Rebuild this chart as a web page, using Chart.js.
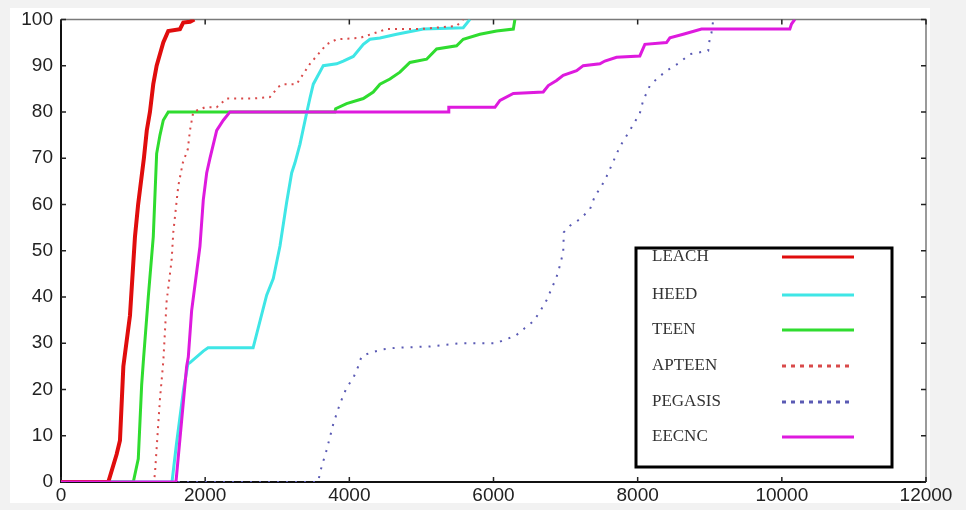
<!DOCTYPE html>
<html>
<head>
<meta charset="utf-8">
<script src="https://cdn.jsdelivr.net/npm/chart.js@4.4.0/dist/chart.umd.min.js"></script>
<style>
  body { margin: 0; background: #f2f2f2; }
  #wrap { position: relative; width: 966px; height: 510px; }
  #paper { position: absolute; left: 10px; top: 8px; width: 920px; height: 495px; background: #fff; }
  #myChart { position: absolute; left: 0; top: 0; }
</style>
</head>
<body>
<div id="wrap">
  <div id="paper"></div>
  <canvas id="myChart" width="966" height="510"></canvas>
</div>
<script>
// values (x = rounds, y = % dead nodes)
var leachX = [0, 656, 772, 818, 865, 957, 1026, 1070, 1150, 1190, 1234, 1280, 1327, 1419, 1488, 1650, 1696, 1790, 1850];
var leachY = [0, 0, 6, 9, 25, 36, 53, 60, 70, 76, 80, 86, 90, 95, 97.5, 97.9, 99.3, 99.5, 100];

var heedX = [0, 1540, 1600, 1700, 1760, 1790, 1974, 2040, 2665, 2853, 2945, 3038, 3130, 3200, 3246, 3315, 3407, 3454, 3500, 3639, 3824, 3916, 4055, 4194, 4286, 4425, 4656, 5025, 5580, 5673];
var heedY = [0, 0, 8, 20, 25.5, 25.8, 28.3, 29, 29, 40.4, 44, 51, 60.4, 66.8, 69, 73, 79.7, 83, 86, 90, 90.4, 91, 92, 94.6, 95.7, 96, 96.8, 97.9, 98.2, 100];

var teenX = [0, 1003, 1072, 1119, 1142, 1211, 1280, 1327, 1373, 1419, 1488, 3800, 3810, 3962, 4194, 4332, 4425, 4563, 4702, 4840, 5072, 5211, 5488, 5580, 5811, 6043, 6275, 6297];
var teenY = [0, 0, 5, 21, 26, 40, 53, 71, 75, 78.2, 80, 80, 80.7, 81.8, 82.9, 84.3, 86, 87.1, 88.6, 90.7, 91.4, 93.6, 94.3, 95.7, 96.8, 97.5, 97.9, 100];

var apteenX = [0, 1290, 1304, 1373, 1419, 1465, 1535, 1558, 1627, 1690, 1760, 1789, 1835, 1997, 2160, 2298, 2668, 2899, 3014, 3083, 3268, 3361, 3454, 3569, 3685, 3824, 4147, 4517, 4979, 5488, 5580];
var apteenY = [0, 0, 2, 18, 26, 39, 48, 54, 64, 69, 72, 76, 80, 81, 81, 82.9, 82.9, 83.2, 85.4, 86, 86, 88.2, 90.4, 92.5, 94.6, 95.7, 96, 97.9, 97.9, 98.6, 100];

var pegasisX = [0, 3565, 3615, 3685, 3778, 3870, 3962, 4055, 4124, 4170, 4286, 4470, 4633, 5118, 5534, 6043, 6158, 6297, 6436, 6551, 6644, 6736, 6806, 6875, 6921, 6967, 6976, 7060, 7198, 7337, 7406, 7500, 7568, 7753, 7892, 8030, 8077, 8170, 8262, 8400, 8586, 8724, 8978, 9001, 9024, 9050];
var pegasisY = [0, 0, 3.3, 6.9, 12.6, 16.9, 20.4, 22.5, 25, 27.2, 27.9, 28.7, 29, 29.3, 30, 30, 30.8, 31.5, 33.3, 34.7, 36.8, 39.3, 41.8, 44.3, 46.8, 49.7, 54, 55.4, 56.8, 58.9, 61.8, 64, 66, 72.5, 76, 79.7, 82.5, 85.7, 87.1, 88.9, 90.7, 92.5, 93.2, 96, 97.1, 100];

var eecncX = [0, 1595, 1743, 1766, 1812, 1882, 1928, 1974, 2021, 2067, 2160, 2252, 2344, 5370, 5380, 6020, 6090, 6275, 6690, 6760, 6875, 6967, 7153, 7245, 7476, 7545, 7707, 8030, 8100, 8400, 8447, 8632, 8886, 10111, 10134, 10180];
var eecncY = [0, 0, 25, 27, 37, 45.4, 51, 61, 66.8, 70, 76, 78.2, 80, 80, 81, 81, 82.5, 84, 84.3, 85.7, 86.8, 87.9, 88.9, 90, 90.4, 91, 91.8, 92.1, 94.6, 95, 96, 96.8, 97.9, 97.9, 99, 100];

var xTicks = [0, 2000, 4000, 6000, 8000, 10000, 12000];
var yTicks = [0, 10, 20, 30, 40, 50, 60, 70, 80, 90, 100];

function pts(xs, ys) {
  var out = [];
  for (var i = 0; i < xs.length; i++) out.push({x: xs[i], y: ys[i]});
  return out;
}

var ctx = document.getElementById('myChart').getContext('2d');

var newDta = {
  datasets: [
    { label: 'LEACH', data: pts(leachX, leachY), borderColor: '#e00d0d', borderWidth: 4, order: 1 },
    { label: 'HEED', data: pts(heedX, heedY), borderColor: '#3fe6e6', borderWidth: 3, order: 3 },
    { label: 'TEEN', data: pts(teenX, teenY), borderColor: '#2fdc2f', borderWidth: 3, order: 5 },
    { label: 'APTEEN', data: pts(apteenX, apteenY), borderColor: '#d94a4a', borderWidth: 2, borderDash: [2, 5], order: 2 },
    { label: 'PEGASIS', data: pts(pegasisX, pegasisY), borderColor: '#5a5ab4', borderWidth: 2, borderDash: [2, 7], order: 4 },
    { label: 'EECNC', data: pts(eecncX, eecncY), borderColor: '#de1ade', borderWidth: 3, order: 0 }
  ]
};

// frame + inward ticks, matlab style
var framePlugin = {
  id: 'frame',
  beforeDatasetsDraw: function(chart) {
    var c = chart.ctx, a = chart.chartArea;
    var xs = chart.scales.x, ys = chart.scales.y;
    c.save();
    c.strokeStyle = '#7a7a7a';
    c.lineWidth = 1.5;
    c.beginPath();
    c.moveTo(a.left, a.top); c.lineTo(a.right, a.top); c.lineTo(a.right, a.bottom);
    c.stroke();
    c.strokeStyle = '#111';
    c.lineWidth = 2;
    c.beginPath();
    c.moveTo(a.left, a.top); c.lineTo(a.left, a.bottom); c.lineTo(a.right, a.bottom);
    c.stroke();
    c.lineWidth = 1.5;
    c.strokeStyle = '#222';
    c.beginPath();
    xTicks.forEach(function(v) {
      var px = xs.getPixelForValue(v);
      c.moveTo(px, a.bottom); c.lineTo(px, a.bottom - 5);
      c.moveTo(px, a.top); c.lineTo(px, a.top + 5);
    });
    yTicks.forEach(function(v) {
      var py = ys.getPixelForValue(v);
      c.moveTo(a.left, py); c.lineTo(a.left + 5, py);
      c.moveTo(a.right, py); c.lineTo(a.right - 5, py);
    });
    c.stroke();
    c.restore();
  },
  afterDraw: function(chart) {
    var c = chart.ctx;
    c.save();
    c.fillStyle = '#fff';
    c.fillRect(636, 248, 256, 219);
    c.strokeStyle = '#000';
    c.lineWidth = 3;
    c.strokeRect(636, 248, 256, 219);
    var rows = [257, 295, 330, 366, 402, 437];
    c.font = "17px 'Liberation Serif'";
    c.textBaseline = 'middle';
    chart.data.datasets.forEach(function(ds, i) {
      c.fillStyle = '#333';
      c.fillText(ds.label, 652, rows[i]);
      c.strokeStyle = ds.borderColor;
      c.lineWidth = 3;
      c.setLineDash(ds.borderDash ? [4, 5] : []);
      c.beginPath();
      c.moveTo(782, rows[i]); c.lineTo(854, rows[i]);
      c.stroke();
    });
    c.restore();
  }
};

var Chartoptions = {
  responsive: false,
  animation: false,
  layout: { padding: { left: 0, top: 15, right: 40, bottom: 0 } },
  plugins: { legend: { display: false }, tooltip: { enabled: false } },
  elements: { point: { radius: 0 }, line: { tension: 0 } },
  scales: {
    x: {
      type: 'linear', min: 0, max: 12000,
      grid: { display: false, drawTicks: false, tickLength: 0 },
      border: { display: false },
      afterFit: function(s) { s.height = 28; },
      afterBuildTicks: function(s) { s.ticks = xTicks.map(function(v) { return {value: v}; }); },
      ticks: { padding: 2, color: '#222', font: { family: "'Liberation Sans'", size: 19 }, maxRotation: 0, callback: function(v) { return v; } }
    },
    y: {
      type: 'linear', min: 0, max: 100,
      grid: { display: false, drawTicks: false, tickLength: 0 },
      border: { display: false },
      afterFit: function(s) { s.width = 61; },
      afterBuildTicks: function(s) { s.ticks = yTicks.map(function(v) { return {value: v}; }); },
      ticks: { padding: 8, color: '#222', font: { family: "'Liberation Sans'", size: 19 }, callback: function(v) { return v; } }
    }
  }
};

var myChart = new Chart(ctx, {
  type: 'line',
  data: newDta,
  options: Chartoptions,
  plugins: [framePlugin]
});
</script>
</body>
</html>
